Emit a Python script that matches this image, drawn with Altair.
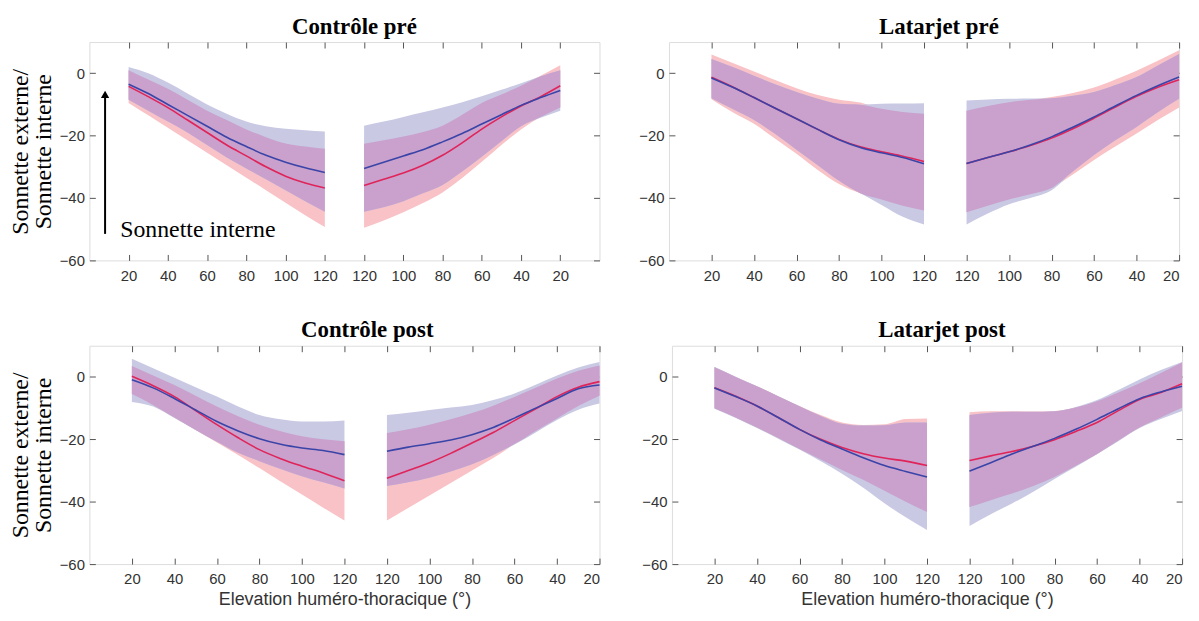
import altair as alt
import pandas as pd

# Angles: elevation phase (20 -> 120) then lowering phase (120 -> 20)
ANGLES_UP = [20, 30, 40, 50, 60, 70, 80, 90, 100, 110, 120]
ANGLES_DOWN = [120, 110, 100, 90, 80, 70, 60, 50, 40, 30, 20]
TICK_POS = [20, 40, 60, 80, 100, 120, 140, 160, 180, 200, 220, 240]
Y_TICKS = [-60, -40, -20, 0]

# ---- Contrôle pré (22 values: 11 elevation then 11 lowering) ----
CP_RED_MEAN = [-4.2, -7.5, -11, -15, -19, -23, -26.5, -30, -33, -35.2, -36.8,
               -36, -34, -32, -29.5, -26.3, -22.3, -17.9, -14, -10.5, -7.5, -4]
CP_RED_LO = [-9.5, -13.5, -17.5, -21.5, -25.5, -29.5, -33.5, -37.5, -41.5, -45.5, -49.3,
             -49.5, -47.2, -44.6, -41.6, -38.2, -33.6, -28.4, -23, -18, -14, -11]
CP_RED_HI = [1, -2, -5, -8.5, -12, -15, -18, -20.5, -22.5, -23.5, -24.2,
             -22.6, -21.5, -20.3, -18.8, -16.8, -13.3, -9.5, -6.8, -4, -0.8, 2.6]
CP_BLUE_MEAN = [-3.5, -6.5, -10, -13.5, -17, -20.5, -23.5, -26.3, -28.5, -30.3, -31.8,
                -30.5, -28.5, -26.5, -24.5, -22, -19.3, -16.3, -13.3, -10.3, -7.8, -5.5]
CP_BLUE_LO = [-8.5, -12, -15.5, -19, -23, -27, -30.5, -34, -37.5, -41, -44.4,
              -44.4, -43, -41, -38.5, -35.8, -31.5, -26.8, -21.8, -17, -14.3, -12]
CP_BLUE_HI = [2, 0, -3, -6.5, -10, -13, -15.5, -17, -17.8, -18.3, -18.7,
              -16.8, -15.5, -14, -12.5, -11, -9.3, -7.4, -5.3, -3.2, -1, 1]

# ---- Latarjet pré ----
LP_RED_MEAN = [-1.3, -4.4, -7.8, -11.2, -14.6, -18, -21.2, -23.6, -25.2, -26.6, -28.3,
               -28.9, -27, -25.2, -23.2, -20.8, -17.8, -14.4, -10.8, -7.4, -4.5, -2.1]
LP_RED_LO = [-8.3, -12.5, -16.2, -21, -25.8, -31, -35.5, -38.5, -40.5, -42.5, -44,
             -44.6, -42.5, -40.5, -38.8, -36.8, -32.5, -27.8, -23.5, -19.3, -15, -11]
LP_RED_HI = [6, 3.3, 0.6, -2.2, -4.8, -7, -8.5, -9.4, -11.4, -12.4, -13,
             -12, -10.5, -9.3, -8.5, -7.6, -6.3, -4.6, -2, 0.8, 4, 7.4]
LP_BLUE_MEAN = [-1.5, -4.5, -7.8, -11.2, -14.6, -18, -21.3, -23.8, -25.5, -27, -29,
                -28.9, -27, -25.2, -23, -20.4, -17.3, -14, -10.5, -7.1, -4, -1.2]
LP_BLUE_LO = [-8, -11.5, -15, -19.5, -24.5, -29.5, -34.5, -38.5, -42.2, -46, -48.5,
              -48.5, -45, -42, -40, -37.5, -31.5, -26.2, -21.5, -17.2, -12.5, -8.2]
LP_BLUE_HI = [4.6, 2, -0.8, -3.5, -6, -8.2, -9.8, -10.1, -9.8, -9.7, -9.6,
              -8.7, -8.4, -8.2, -8.1, -8, -7.2, -6, -3.8, -1.2, 2.5, 6.2]

# ---- Contrôle post ----
CO_RED_MEAN = [0.2, -2.8, -6.3, -10.8, -15.3, -19.5, -23.3, -26.2, -28.6, -30.8, -33.3,
               -32.5, -30, -27.5, -24.5, -21.2, -17.8, -14, -10.2, -6.3, -3.3, -1.5]
CO_RED_LO = [-5.5, -9, -13, -17, -21, -25, -29.2, -33.5, -37.7, -41.9, -46,
             -46, -42, -38, -34, -30, -26, -21.5, -17.3, -13.3, -9.3, -6]
CO_RED_HI = [3.5, 0.5, -2.6, -6, -9.5, -12.6, -15.3, -17.4, -19, -20, -20.6,
             -18, -16.8, -15.3, -13.6, -11.6, -9.2, -6.4, -3.5, -0.5, 2, 3.7]
CO_BLUE_MEAN = [-0.9, -3.5, -6.9, -10.6, -14.3, -17.3, -19.8, -21.6, -22.8, -23.6, -24.9,
                -23.8, -22.5, -21.4, -20.2, -18.5, -16.2, -13.2, -10, -6.9, -3.8, -2.6]
CO_BLUE_LO = [-8, -9.5, -13.2, -17, -20.8, -24.3, -27, -29.5, -31.8, -33.8, -35.8,
              -35, -33.8, -32.3, -30.3, -28, -25, -21.7, -17.8, -13.8, -10.5, -8.5]
CO_BLUE_HI = [5.8, 2.8, -0.3, -3.3, -6.3, -9.5, -12.2, -13.6, -14.3, -14.3, -14,
              -12.2, -11.5, -10.6, -9.8, -9, -7.4, -5.3, -2.5, 0.5, 3, 4.8]

# ---- Latarjet post ----
LO_RED_MEAN = [-3.5, -6.2, -9.3, -13, -16.8, -20, -22.6, -24.6, -26, -27, -28.4,
               -26.8, -25.3, -23.9, -22.2, -20.1, -17.5, -14.6, -10.8, -7.2, -5, -2.2]
LO_RED_LO = [-10, -13, -16.2, -19.6, -23.1, -26.5, -29.8, -33, -36.5, -40, -43.3,
             -41.7, -39.5, -37.4, -35, -32.1, -28.5, -24.7, -20.4, -16.2, -13, -9.9]
LO_RED_HI = [3.1, 0, -3, -6.2, -9.3, -12.2, -14.6, -15.4, -15.2, -13.5, -13.3,
             -11.3, -11, -11, -11.1, -10.9, -9.8, -7.8, -5, -2, 1.3, 4.6]
LO_BLUE_MEAN = [-3.5, -6.3, -9.3, -13, -16.8, -20.2, -23.1, -25.9, -28.4, -30.3, -32.1,
                -30.2, -27.5, -24.7, -22.2, -19.7, -16.8, -13.6, -10.2, -7, -4.8, -3]
LO_BLUE_LO = [-10.2, -13.2, -16.4, -19.8, -23.3, -27, -31, -35.5, -40.5, -45, -49.1,
              -47.8, -44, -40.6, -36.8, -32.7, -28.8, -24.8, -20.6, -16.4, -13.5, -10.9]
LO_BLUE_HI = [3.3, 0.1, -3, -6.2, -9.4, -12.5, -15, -15.6, -15.5, -14.6, -14.6,
              -12.2, -11.5, -11.2, -11.2, -11, -9.6, -7.4, -4.2, -0.8, 2.2, 4.8]

PINK = "#f8c2c6"
LAVENDER = "#c9c9e4"
PURPLE = "#c9a1cc"
RED = "#e0245a"
BLUE = "#3a44a8"

SANS = "Liberation Sans"
SERIF = "Liberation Serif"


def build_frame(red, blue):
    angles = ANGLES_UP + ANGLES_DOWN
    rows = []
    for i, a in enumerate(angles):
        up = i < len(ANGLES_UP)
        rows.append({
            "phase": "up" if up else "down",
            "pos": a if up else 260 - a,
            "r_mean": red[0][i], "r_lo": red[1][i], "r_hi": red[2][i],
            "b_mean": blue[0][i], "b_lo": blue[1][i], "b_hi": blue[2][i],
            "o_lo": max(red[1][i], blue[1][i]),
            "o_hi": min(red[2][i], blue[2][i]),
        })
    return pd.DataFrame(rows)


def panel(title, red, blue, xmax, title_dx, ytitle=False, xtitle=False, note=False):
    df = build_frame(red, blue)
    base = alt.Chart(df)
    xs = alt.Scale(domain=[0, xmax], nice=False, zero=False)
    ys = alt.Scale(domain=[-60, 10], nice=False, zero=False)
    label_expr = "datum.value <= 120 ? datum.value : 260 - datum.value"

    x_bottom = alt.Axis(orient="bottom", values=TICK_POS, labelExpr=label_expr,
                        offset=-6, tickSize=6, domain=False, grid=False,
                        labelPadding=8, labelFont=SANS, labelFontSize=15,
                        labelColor="#333", tickColor="#555",
                        title="Elevation huméro-thoracique (°)" if xtitle else None,
                        titleFont=SANS, titleFontSize=18, titleFontWeight="normal",
                        titleColor="#333", titlePadding=4)
    y_left = alt.Axis(orient="left", values=Y_TICKS, offset=-6, tickSize=6,
                      domain=False, grid=False, labelPadding=5, labelFont=SANS,
                      labelFontSize=15, labelColor="#333", tickColor="#555",
                      title=["Sonnette externe/", "Sonnette interne"] if ytitle else None,
                      titleFont=SERIF, titleFontSize=24, titleFontWeight="normal",
                      titleColor="#000", titlePadding=4, titleLineHeight=23)
    x_top = alt.Axis(orient="top", values=TICK_POS, offset=-6, tickSize=6,
                     domain=False, grid=False, labels=False, title=None,
                     tickColor="#555")
    y_right = alt.Axis(orient="right", values=Y_TICKS, offset=-6, tickSize=6,
                       domain=False, grid=False, labels=False, title=None,
                       tickColor="#555")

    pink = base.mark_area(color=PINK, interpolate="monotone").encode(
        x=alt.X("pos:Q", scale=xs, axis=x_bottom),
        y=alt.Y("r_lo:Q", scale=ys, axis=y_left),
        y2="r_hi:Q", detail="phase:N")
    lav = base.mark_area(color=LAVENDER, interpolate="monotone").encode(
        x=alt.X("pos:Q", scale=xs, axis=None),
        y=alt.Y("b_lo:Q", scale=ys, axis=None),
        y2="b_hi:Q", detail="phase:N")
    over = base.mark_area(color=PURPLE, interpolate="monotone").encode(
        x=alt.X("pos:Q", scale=xs, axis=None),
        y=alt.Y("o_lo:Q", scale=ys, axis=None),
        y2="o_hi:Q", detail="phase:N")
    red_line = base.mark_line(color=RED, strokeWidth=1.6, interpolate="monotone").encode(
        x=alt.X("pos:Q", scale=xs, axis=None),
        y=alt.Y("r_mean:Q", scale=ys, axis=None), detail="phase:N")
    blue_line = base.mark_line(color=BLUE, strokeWidth=1.6, interpolate="monotone").encode(
        x=alt.X("pos:Q", scale=xs, axis=x_top),
        y=alt.Y("b_mean:Q", scale=ys, axis=y_right), detail="phase:N")

    layers = [pink, lav, over, red_line, blue_line]
    if note:
        ann = pd.DataFrame({"x": [8], "y0": [-51.5], "y1": [-6.8], "tx": [15.7],
                            "ty": [-52.4], "label": ["Sonnette interne"]})
        nb = alt.Chart(ann)
        layers.append(nb.mark_rule(color="black", strokeWidth=2).encode(
            x=alt.X("x:Q", scale=xs, axis=None),
            y=alt.Y("y0:Q", scale=ys, axis=None), y2="y1:Q"))
        layers.append(nb.mark_point(shape="triangle-up", filled=True, color="black",
                                    opacity=1, size=70).encode(
            x=alt.X("x:Q", scale=xs, axis=None),
            y=alt.Y("y1:Q", scale=ys, axis=None)))
        layers.append(nb.mark_text(align="left", baseline="alphabetic", font=SERIF,
                                   fontSize=24, color="black").encode(
            x=alt.X("tx:Q", scale=xs, axis=None),
            y=alt.Y("ty:Q", scale=ys, axis=None), text="label:N"))

    return alt.layer(*layers).resolve_axis(x="independent", y="independent").properties(
        width=514, height=220,
        title=alt.TitleParams(title, font=SERIF, fontSize=23, fontWeight="bold",
                              color="black", anchor="middle", offset=3, dx=title_dx))


tl = panel("Contrôle pré", (CP_RED_MEAN, CP_RED_LO, CP_RED_HI),
           (CP_BLUE_MEAN, CP_BLUE_LO, CP_BLUE_HI), 260, 10, ytitle=True, note=True)
tr = panel("Latarjet pré", (LP_RED_MEAN, LP_RED_LO, LP_RED_HI),
           (LP_BLUE_MEAN, LP_BLUE_LO, LP_BLUE_HI), 240, 15)
bl = panel("Contrôle post", (CO_RED_MEAN, CO_RED_LO, CO_RED_HI),
           (CO_BLUE_MEAN, CO_BLUE_LO, CO_BLUE_HI), 240, 23, ytitle=True, xtitle=True)
br = panel("Latarjet post", (LO_RED_MEAN, LO_RED_LO, LO_RED_HI),
           (LO_BLUE_MEAN, LO_BLUE_LO, LO_BLUE_HI), 240, 15, xtitle=True)

chart = alt.vconcat(
    alt.hconcat(tl, tr, spacing=38),
    alt.hconcat(bl, br, spacing=38),
    spacing=35,
    padding={"left": 0, "top": 5, "right": 5, "bottom": 5},
).configure_view(stroke="#8a8a8a", strokeWidth=1).configure(background="white")

chart.save("out.html", embed_options={"renderer": "svg", "actions": False})
